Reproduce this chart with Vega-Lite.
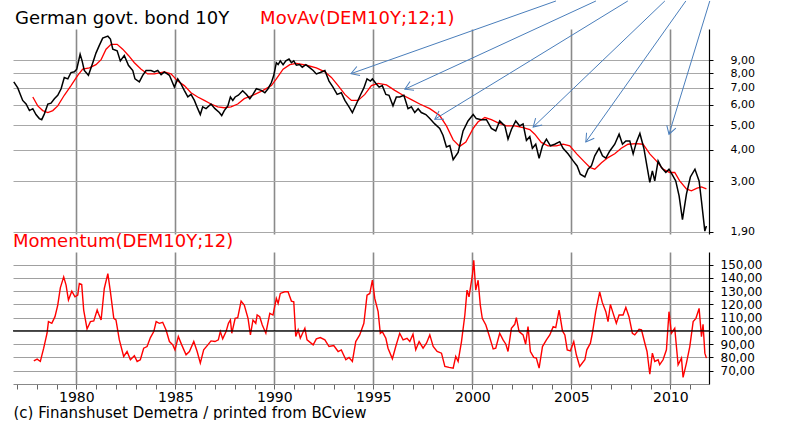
{
  "$schema": "https://vega.github.io/schema/vega-lite/v6.json",
  "background": "white",
  "padding": {"left": 10, "top": 0, "right": 5, "bottom": 0},
  "bounds": "flush",
  "spacing": 18,
  "config": {"view": {"stroke": null}, "font": "DejaVu Sans", "axis": {"labelFont": "DejaVu Sans", "titleFont": "DejaVu Sans"}},
  "datasets": {
    "bond": [
      {"year":1976.84,"v":7.4},{"year":1977.04,"v":7.0},{"year":1977.17,"v":6.6},{"year":1977.29,"v":6.25},{"year":1977.46,"v":6.05},{"year":1977.63,"v":5.7},{"year":1977.8,"v":5.8},{"year":1977.96,"v":5.5},{"year":1978.13,"v":5.3},{"year":1978.25,"v":5.25},{"year":1978.38,"v":5.52},{"year":1978.56,"v":6.05},{"year":1978.72,"v":6.1},{"year":1978.89,"v":6.35},{"year":1979.06,"v":6.55},{"year":1979.23,"v":6.95},{"year":1979.39,"v":7.7},{"year":1979.57,"v":7.6},{"year":1979.73,"v":8.05},{"year":1979.9,"v":8.1},{"year":1980.02,"v":8.3},{"year":1980.19,"v":9.5},{"year":1980.29,"v":8.95},{"year":1980.4,"v":8.2},{"year":1980.61,"v":7.85},{"year":1980.83,"v":8.8},{"year":1980.99,"v":9.6},{"year":1981.16,"v":10.3},{"year":1981.33,"v":11.0},{"year":1981.59,"v":11.2},{"year":1981.72,"v":10.9},{"year":1981.84,"v":9.95},{"year":1982.06,"v":9.8},{"year":1982.22,"v":8.95},{"year":1982.42,"v":9.4},{"year":1982.63,"v":8.6},{"year":1982.85,"v":8.2},{"year":1982.96,"v":7.6},{"year":1983.18,"v":7.4},{"year":1983.35,"v":7.85},{"year":1983.52,"v":8.2},{"year":1983.77,"v":8.2},{"year":1983.94,"v":8.1},{"year":1984.11,"v":8.2},{"year":1984.28,"v":7.9},{"year":1984.44,"v":8.1},{"year":1984.7,"v":7.85},{"year":1984.95,"v":7.05},{"year":1985.12,"v":7.6},{"year":1985.29,"v":7.25},{"year":1985.45,"v":6.85},{"year":1985.63,"v":6.45},{"year":1985.79,"v":6.6},{"year":1985.96,"v":6.25},{"year":1986.13,"v":5.8},{"year":1986.26,"v":5.5},{"year":1986.38,"v":5.9},{"year":1986.55,"v":5.8},{"year":1986.8,"v":6.05},{"year":1987.0,"v":5.8},{"year":1987.22,"v":5.6},{"year":1987.34,"v":5.45},{"year":1987.47,"v":5.7},{"year":1987.65,"v":5.95},{"year":1987.78,"v":6.45},{"year":1987.9,"v":6.25},{"year":1988.02,"v":6.45},{"year":1988.18,"v":6.55},{"year":1988.4,"v":6.82},{"year":1988.59,"v":6.6},{"year":1988.76,"v":6.35},{"year":1988.92,"v":6.6},{"year":1989.09,"v":6.95},{"year":1989.34,"v":6.85},{"year":1989.52,"v":6.7},{"year":1989.68,"v":6.95},{"year":1989.85,"v":7.35},{"year":1989.97,"v":7.85},{"year":1990.1,"v":8.8},{"year":1990.19,"v":8.65},{"year":1990.3,"v":8.95},{"year":1990.44,"v":8.65},{"year":1990.58,"v":8.95},{"year":1990.74,"v":9.1},{"year":1990.86,"v":8.8},{"year":1990.98,"v":8.95},{"year":1991.11,"v":8.6},{"year":1991.28,"v":8.65},{"year":1991.41,"v":8.45},{"year":1991.59,"v":8.65},{"year":1991.75,"v":8.45},{"year":1991.96,"v":8.2},{"year":1992.12,"v":7.95},{"year":1992.32,"v":8.05},{"year":1992.55,"v":8.2},{"year":1992.76,"v":7.45},{"year":1992.96,"v":7.05},{"year":1993.17,"v":6.6},{"year":1993.38,"v":6.7},{"year":1993.56,"v":6.25},{"year":1993.77,"v":5.9},{"year":1993.94,"v":5.6},{"year":1994.14,"v":6.05},{"year":1994.34,"v":6.55},{"year":1994.52,"v":7.0},{"year":1994.68,"v":7.6},{"year":1994.85,"v":7.45},{"year":1994.95,"v":7.6},{"year":1995.12,"v":7.3},{"year":1995.29,"v":7.05},{"year":1995.45,"v":7.15},{"year":1995.63,"v":6.6},{"year":1995.79,"v":6.55},{"year":1995.99,"v":5.95},{"year":1996.16,"v":6.45},{"year":1996.33,"v":6.45},{"year":1996.54,"v":6.55},{"year":1996.75,"v":5.8},{"year":1996.92,"v":5.9},{"year":1997.09,"v":5.6},{"year":1997.26,"v":5.8},{"year":1997.42,"v":5.6},{"year":1997.65,"v":5.5},{"year":1997.85,"v":5.3},{"year":1998.1,"v":5.05},{"year":1998.35,"v":4.85},{"year":1998.52,"v":4.55},{"year":1998.69,"v":4.1},{"year":1998.86,"v":4.15},{"year":1999.03,"v":3.65},{"year":1999.28,"v":3.9},{"year":1999.53,"v":4.74},{"year":1999.78,"v":5.19},{"year":2000.04,"v":5.5},{"year":2000.2,"v":5.3},{"year":2000.45,"v":5.25},{"year":2000.71,"v":5.25},{"year":2000.96,"v":4.85},{"year":2001.18,"v":4.74},{"year":2001.38,"v":5.19},{"year":2001.64,"v":4.96},{"year":2001.8,"v":4.4},{"year":2001.97,"v":4.8},{"year":2002.19,"v":5.19},{"year":2002.39,"v":4.96},{"year":2002.56,"v":5.05},{"year":2002.73,"v":4.35},{"year":2002.9,"v":4.5},{"year":2003.03,"v":4.05},{"year":2003.2,"v":4.2},{"year":2003.37,"v":3.7},{"year":2003.54,"v":4.14},{"year":2003.74,"v":4.4},{"year":2003.94,"v":4.14},{"year":2004.16,"v":4.2},{"year":2004.41,"v":4.3},{"year":2004.58,"v":4.05},{"year":2004.83,"v":3.85},{"year":2005.09,"v":3.61},{"year":2005.29,"v":3.45},{"year":2005.45,"v":3.2},{"year":2005.68,"v":3.12},{"year":2005.84,"v":3.35},{"year":2006.01,"v":3.45},{"year":2006.18,"v":3.78},{"year":2006.4,"v":4.05},{"year":2006.57,"v":3.78},{"year":2006.74,"v":3.7},{"year":2006.94,"v":3.95},{"year":2007.19,"v":4.2},{"year":2007.41,"v":4.6},{"year":2007.58,"v":4.2},{"year":2007.75,"v":4.33},{"year":2007.95,"v":4.33},{"year":2008.12,"v":3.85},{"year":2008.28,"v":4.27},{"year":2008.46,"v":4.63},{"year":2008.66,"v":4.05},{"year":2008.83,"v":3.4},{"year":2008.96,"v":2.97},{"year":2009.09,"v":3.3},{"year":2009.21,"v":3.01},{"year":2009.38,"v":3.61},{"year":2009.55,"v":3.4},{"year":2009.77,"v":3.25},{"year":2009.93,"v":3.35},{"year":2010.1,"v":3.18},{"year":2010.27,"v":3.01},{"year":2010.44,"v":2.63},{"year":2010.61,"v":2.12},{"year":2010.81,"v":2.67},{"year":2011.01,"v":3.12},{"year":2011.24,"v":3.35},{"year":2011.45,"v":3.01},{"year":2011.57,"v":2.51},{"year":2011.74,"v":1.91},{"year":2011.82,"v":2.0}
    ],
    "ma": [
      {"year":1977.8,"v":6.45},{"year":1978.05,"v":5.95},{"year":1978.3,"v":5.7},{"year":1978.56,"v":5.6},{"year":1978.81,"v":5.7},{"year":1979.06,"v":5.95},{"year":1979.39,"v":6.55},{"year":1979.73,"v":7.15},{"year":1980.07,"v":7.85},{"year":1980.32,"v":8.3},{"year":1980.66,"v":8.4},{"year":1980.99,"v":8.65},{"year":1981.25,"v":9.05},{"year":1981.5,"v":9.95},{"year":1981.75,"v":10.4},{"year":1982.06,"v":10.4},{"year":1982.34,"v":9.95},{"year":1982.63,"v":9.4},{"year":1982.93,"v":8.8},{"year":1983.27,"v":8.3},{"year":1983.6,"v":7.95},{"year":1983.94,"v":7.95},{"year":1984.44,"v":8.1},{"year":1984.78,"v":7.95},{"year":1985.12,"v":7.45},{"year":1985.45,"v":7.15},{"year":1985.79,"v":6.7},{"year":1986.13,"v":6.45},{"year":1986.46,"v":6.25},{"year":1986.8,"v":6.05},{"year":1987.14,"v":5.9},{"year":1987.47,"v":5.85},{"year":1987.81,"v":5.9},{"year":1988.15,"v":6.05},{"year":1988.48,"v":6.35},{"year":1988.92,"v":6.55},{"year":1989.43,"v":6.85},{"year":1989.85,"v":7.15},{"year":1990.1,"v":7.6},{"year":1990.44,"v":8.3},{"year":1990.78,"v":8.65},{"year":1991.11,"v":8.75},{"year":1991.62,"v":8.6},{"year":1992.12,"v":8.4},{"year":1992.55,"v":8.1},{"year":1992.88,"v":7.7},{"year":1993.22,"v":7.15},{"year":1993.56,"v":6.6},{"year":1993.89,"v":6.25},{"year":1994.23,"v":6.25},{"year":1994.57,"v":6.6},{"year":1994.9,"v":7.15},{"year":1995.24,"v":7.3},{"year":1995.66,"v":7.2},{"year":1996.08,"v":6.85},{"year":1996.5,"v":6.55},{"year":1996.92,"v":6.3},{"year":1997.34,"v":6.05},{"year":1997.85,"v":5.8},{"year":1998.35,"v":5.45},{"year":1998.69,"v":4.96},{"year":1999.03,"v":4.37},{"year":1999.36,"v":4.12},{"year":1999.67,"v":4.28},{"year":2000.04,"v":4.85},{"year":2000.29,"v":5.15},{"year":2000.63,"v":5.35},{"year":2000.96,"v":5.25},{"year":2001.3,"v":5.1},{"year":2001.72,"v":4.96},{"year":2002.14,"v":4.96},{"year":2002.56,"v":4.88},{"year":2002.9,"v":4.8},{"year":2003.15,"v":4.6},{"year":2003.48,"v":4.27},{"year":2003.82,"v":4.14},{"year":2004.24,"v":4.14},{"year":2004.58,"v":4.2},{"year":2004.92,"v":4.14},{"year":2005.27,"v":3.85},{"year":2005.61,"v":3.61},{"year":2005.94,"v":3.4},{"year":2006.18,"v":3.35},{"year":2006.52,"v":3.55},{"year":2006.85,"v":3.72},{"year":2007.19,"v":3.85},{"year":2007.52,"v":4.05},{"year":2007.86,"v":4.2},{"year":2008.28,"v":4.22},{"year":2008.62,"v":4.2},{"year":2008.96,"v":3.85},{"year":2009.29,"v":3.61},{"year":2009.63,"v":3.35},{"year":2009.97,"v":3.25},{"year":2010.22,"v":3.25},{"year":2010.47,"v":3.01},{"year":2010.81,"v":2.8},{"year":2011.06,"v":2.75},{"year":2011.35,"v":2.82},{"year":2011.57,"v":2.85},{"year":2011.82,"v":2.8}
    ],
    "mom": [
      {"year":1977.85,"v":77.5},{"year":1978.02,"v":78.75},{"year":1978.18,"v":77},{"year":1978.35,"v":87},{"year":1978.52,"v":98.25},{"year":1978.59,"v":107},{"year":1978.76,"v":105.75},{"year":1978.92,"v":110.75},{"year":1979.06,"v":119.5},{"year":1979.19,"v":132.5},{"year":1979.36,"v":140.75},{"year":1979.48,"v":134.5},{"year":1979.6,"v":123.25},{"year":1979.77,"v":130},{"year":1979.93,"v":125.75},{"year":1980.07,"v":127},{"year":1980.15,"v":135.75},{"year":1980.27,"v":135},{"year":1980.37,"v":115.75},{"year":1980.54,"v":101.5},{"year":1980.71,"v":107},{"year":1980.88,"v":107.5},{"year":1981.05,"v":115.75},{"year":1981.11,"v":113.25},{"year":1981.25,"v":108.25},{"year":1981.41,"v":132},{"year":1981.59,"v":143.25},{"year":1981.72,"v":129.5},{"year":1981.89,"v":109.5},{"year":1982.0,"v":108.25},{"year":1982.17,"v":93.25},{"year":1982.39,"v":80.75},{"year":1982.56,"v":84.5},{"year":1982.73,"v":78.25},{"year":1982.93,"v":81.25},{"year":1983.07,"v":77},{"year":1983.23,"v":78.25},{"year":1983.4,"v":87},{"year":1983.57,"v":88.25},{"year":1983.74,"v":95},{"year":1983.91,"v":99.5},{"year":1984.03,"v":107},{"year":1984.19,"v":105.75},{"year":1984.36,"v":106.5},{"year":1984.53,"v":100.75},{"year":1984.7,"v":92},{"year":1984.87,"v":89.5},{"year":1984.98,"v":85.75},{"year":1985.15,"v":95.75},{"year":1985.32,"v":89.5},{"year":1985.54,"v":82},{"year":1985.71,"v":84.5},{"year":1985.93,"v":92},{"year":1986.1,"v":84.5},{"year":1986.26,"v":75.75},{"year":1986.43,"v":85.75},{"year":1986.64,"v":89.5},{"year":1986.8,"v":92.5},{"year":1987.0,"v":92},{"year":1987.17,"v":93.25},{"year":1987.27,"v":99.5},{"year":1987.39,"v":94},{"year":1987.56,"v":99.5},{"year":1987.68,"v":105.75},{"year":1987.78,"v":108.25},{"year":1987.85,"v":98.25},{"year":1988.02,"v":109.5},{"year":1988.15,"v":110},{"year":1988.32,"v":122.5},{"year":1988.48,"v":119.5},{"year":1988.67,"v":109.5},{"year":1988.79,"v":97},{"year":1988.92,"v":108.25},{"year":1989.06,"v":105.75},{"year":1989.13,"v":112},{"year":1989.26,"v":110.75},{"year":1989.39,"v":104.5},{"year":1989.57,"v":98.25},{"year":1989.77,"v":113.25},{"year":1989.93,"v":112},{"year":1990.1,"v":124.5},{"year":1990.19,"v":120.75},{"year":1990.3,"v":128.25},{"year":1990.52,"v":129.5},{"year":1990.69,"v":129.5},{"year":1990.86,"v":122.5},{"year":1990.98,"v":122},{"year":1991.08,"v":95.75},{"year":1991.2,"v":100.75},{"year":1991.31,"v":94.5},{"year":1991.54,"v":102},{"year":1991.65,"v":93.25},{"year":1991.96,"v":89.5},{"year":1992.12,"v":94},{"year":1992.32,"v":95},{"year":1992.55,"v":93.25},{"year":1992.76,"v":88.25},{"year":1993.0,"v":89},{"year":1993.22,"v":84.5},{"year":1993.38,"v":85.75},{"year":1993.61,"v":78.25},{"year":1993.77,"v":80},{"year":1993.94,"v":77},{"year":1994.11,"v":92},{"year":1994.31,"v":97},{"year":1994.52,"v":105.75},{"year":1994.68,"v":127},{"year":1994.82,"v":128.25},{"year":1994.95,"v":138.25},{"year":1995.07,"v":124.5},{"year":1995.24,"v":114.5},{"year":1995.35,"v":98.25},{"year":1995.45,"v":99.5},{"year":1995.63,"v":94.5},{"year":1995.74,"v":87},{"year":1995.96,"v":79},{"year":1996.13,"v":88.25},{"year":1996.33,"v":98.25},{"year":1996.5,"v":93.25},{"year":1996.7,"v":94.5},{"year":1996.84,"v":92},{"year":1997.0,"v":97.5},{"year":1997.14,"v":85.75},{"year":1997.31,"v":92},{"year":1997.51,"v":87},{"year":1997.68,"v":90.75},{"year":1997.85,"v":97},{"year":1998.02,"v":88.25},{"year":1998.22,"v":84.5},{"year":1998.44,"v":83.25},{"year":1998.61,"v":73.25},{"year":1998.82,"v":72.5},{"year":1999.03,"v":72},{"year":1999.16,"v":80.75},{"year":1999.28,"v":77},{"year":1999.45,"v":92},{"year":1999.62,"v":112},{"year":1999.73,"v":130.75},{"year":1999.83,"v":125.75},{"year":2000.0,"v":142},{"year":2000.07,"v":153.25},{"year":2000.17,"v":130.75},{"year":2000.29,"v":138.25},{"year":2000.4,"v":119.5},{"year":2000.5,"v":109.5},{"year":2000.68,"v":104.5},{"year":2000.84,"v":97},{"year":2001.05,"v":86.5},{"year":2001.18,"v":87},{"year":2001.38,"v":98.25},{"year":2001.55,"v":93.25},{"year":2001.69,"v":90},{"year":2001.8,"v":84.5},{"year":2001.97,"v":102},{"year":2002.14,"v":105},{"year":2002.22,"v":110},{"year":2002.36,"v":99.5},{"year":2002.56,"v":97},{"year":2002.69,"v":90},{"year":2002.81,"v":103.25},{"year":2002.93,"v":84.5},{"year":2003.1,"v":80},{"year":2003.23,"v":79.5},{"year":2003.37,"v":72},{"year":2003.54,"v":88.25},{"year":2003.74,"v":93.25},{"year":2003.91,"v":97},{"year":2004.08,"v":103.25},{"year":2004.21,"v":102.5},{"year":2004.38,"v":115.75},{"year":2004.55,"v":100},{"year":2004.67,"v":97},{"year":2004.79,"v":85.75},{"year":2004.95,"v":85},{"year":2005.12,"v":92},{"year":2005.25,"v":82},{"year":2005.42,"v":73.25},{"year":2005.68,"v":78.25},{"year":2005.78,"v":85.75},{"year":2005.96,"v":90.75},{"year":2006.06,"v":98.25},{"year":2006.23,"v":114.5},{"year":2006.43,"v":129.5},{"year":2006.56,"v":121.5},{"year":2006.74,"v":114.5},{"year":2006.85,"v":107},{"year":2006.97,"v":120},{"year":2007.11,"v":113.25},{"year":2007.27,"v":105.75},{"year":2007.41,"v":112},{"year":2007.61,"v":112},{"year":2007.75,"v":117.75},{"year":2007.91,"v":110.75},{"year":2008.08,"v":98.25},{"year":2008.2,"v":97},{"year":2008.42,"v":101.25},{"year":2008.54,"v":100.75},{"year":2008.71,"v":90.75},{"year":2008.82,"v":84.5},{"year":2008.96,"v":67.5},{"year":2009.09,"v":83.25},{"year":2009.21,"v":77},{"year":2009.38,"v":78.25},{"year":2009.46,"v":74.5},{"year":2009.63,"v":78.25},{"year":2009.8,"v":85.75},{"year":2009.93,"v":114.5},{"year":2010.05,"v":98.25},{"year":2010.22,"v":102},{"year":2010.39,"v":74.5},{"year":2010.56,"v":79.5},{"year":2010.64,"v":65},{"year":2010.81,"v":75.75},{"year":2010.98,"v":88.25},{"year":2011.15,"v":107},{"year":2011.29,"v":109.5},{"year":2011.45,"v":117},{"year":2011.57,"v":95.75},{"year":2011.65,"v":105},{"year":2011.74,"v":83.25},{"year":2011.82,"v":79.5}
    ],
    "arrows": [
      {"year":1993.87,"v":7.97,"year0":2004.22,"v0":15.41,"angle":160.5},
      {"year":1996.59,"v":6.92,"year0":2006.24,"v0":15.41,"angle":155.2},
      {"year":1998.10,"v":5.27,"year0":2007.85,"v0":15.41,"angle":148.5},
      {"year":2003.07,"v":4.91,"year0":2009.72,"v0":15.41,"angle":136.3},
      {"year":2005.73,"v":4.29,"year0":2010.78,"v0":15.41,"angle":125.3},
      {"year":2009.93,"v":4.60,"year0":2011.99,"v0":15.41,"angle":107.0}
    ]
  },
  "vconcat": [
    {
      "width": 696,
      "height": 205,
      "encoding": {
        "x": {"field": "year", "type": "quantitative",
          "scale": {"domain": [1976.8, 2011.95], "nice": false, "zero": false},
          "axis": {"values": [1980,1985,1990,1995,2000,2005,2010], "labels": false, "ticks": false, "domain": false, "grid": true, "gridColor": "#8a8a8a", "gridWidth": 1.6, "title": null}},
        "y": {"field": "v", "type": "quantitative",
          "scale": {"type": "log", "domain": [1.86, 11.95], "nice": false},
          "axis": {"orient": "right", "values": [1.9,3,4,5,6,7,8,9], "labelExpr": "replace(format(datum.value, '.2f'), '.', ',')", "grid": true, "gridColor": "#a8a8a8", "gridWidth": 1, "domainColor": "black", "domainWidth": 1.2, "tickColor": "black", "tickSize": 4, "labelFontSize": 11, "labelColor": "black", "labelPadding": 17, "labelOverlap": false, "title": null}}
      },
      "layer": [
        {"data": {"name": "ma"}, "mark": {"type": "line", "color": "#ff0000", "strokeWidth": 1.3}},
        {"data": {"name": "bond"}, "mark": {"type": "line", "color": "black", "strokeWidth": 1.5}},
        {"data": {"name": "arrows"}, "mark": {"type": "rule", "color": "#4a7ebb", "strokeWidth": 1}, "encoding": {"x2": {"field": "year0"}, "y2": {"field": "v0"}}},
        {"data": {"name": "arrows"}, "mark": {"type": "point", "shape": "M-1,-0.6L0,0L-1,0.6", "filled": false, "color": "#4a7ebb", "size": 250, "strokeWidth": 1, "opacity": 1}, "encoding": {"angle": {"field": "angle", "type": "quantitative", "scale": null}}},
        {"data": {"values": [{"label": "German govt. bond 10Y", "year": 1976.9, "v": 12.06}]}, "mark": {"type": "text", "align": "left", "baseline": "bottom", "fontSize": 18, "color": "black", "font": "DejaVu Sans"}, "encoding": {"text": {"field": "label"}}},
        {"data": {"values": [{"label": "MovAv(DEM10Y;12;1)", "year": 1989.28, "v": 12.06}]}, "mark": {"type": "text", "align": "left", "baseline": "bottom", "fontSize": 18, "color": "#ff0000", "font": "DejaVu Sans"}, "encoding": {"text": {"field": "label"}}}
      ]
    },
    {
      "width": 696,
      "height": 132,
      "title": {"text": "Momentum(DEM10Y;12)", "anchor": "start", "frame": "group", "color": "#ff0000", "fontSize": 18, "fontWeight": "normal", "font": "DejaVu Sans", "offset": 1},
      "encoding": {
        "y": {"field": "v", "type": "quantitative",
          "scale": {"domain": [60, 159.5], "nice": false, "zero": false},
          "axis": {"orient": "right", "values": [70,80,90,100,110,120,130,140,150], "labelExpr": "replace(format(datum.value, '.2f'), '.', ',')", "grid": true, "gridColor": "#a0a0a0", "gridWidth": 1, "domainColor": "black", "domainWidth": 1.2, "tickColor": "black", "tickSize": 4, "labelFontSize": 12, "labelColor": "black", "labelPadding": 7, "labelOverlap": false, "title": null}}
      },
      "layer": [
        {"data": {"name": "mom"}, "mark": {"type": "line", "color": "#ff0000", "strokeWidth": 1.4},
          "encoding": {
            "x": {"field": "year", "type": "quantitative",
              "scale": {"domain": [1976.8, 2011.95], "nice": false, "zero": false},
              "axis": {"values": [1977,1978,1979,1980,1981,1982,1983,1984,1985,1986,1987,1988,1989,1990,1991,1992,1993,1994,1995,1996,1997,1998,1999,2000,2001,2002,2003,2004,2005,2006,2007,2008,2009,2010,2011],
                "labelExpr": "datum.value % 5 === 0 ? format(datum.value, 'd') : ''",
                "grid": true, "gridColor": "#8a8a8a", "gridWidth": 1.6,
                "gridOpacity": {"condition": {"test": "datum.value % 5 === 0", "value": 1}, "value": 0},
                "tickSize": 5, "tickColor": "#666666", "domainColor": "#888888",
                "labelFontSize": 14, "labelColor": "black", "labelPadding": 1, "labelOverlap": false,
                "title": "(c) Finanshuset Demetra / printed from BCview", "titleAnchor": "start", "titleAlign": "left", "titleFontSize": 15, "titleFontWeight": "normal", "titlePadding": 1, "titleColor": "black"}}
          }},
        {"data": {"values": [{"v": 100}]}, "mark": {"type": "rule", "color": "black", "strokeWidth": 1.2}}
      ]
    }
  ]
}
